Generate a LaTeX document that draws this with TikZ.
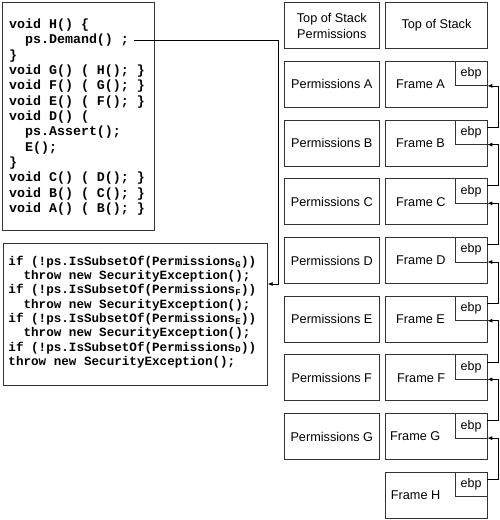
\documentclass[tikz,border=0pt]{standalone}
\usepackage{fontspec}
\setmainfont{Liberation Sans}
\newfontfamily\codefont{Liberation Mono}
\usetikzlibrary{arrows.meta}
\tikzset{
  box/.style={draw=black!80, line width=0.9pt, inner sep=0pt, outer sep=0pt},
  pbox/.style={box, minimum width=95pt, minimum height=46pt, font=\fontsize{12.7}{15.6}\selectfont, align=center},
  fbox/.style={box, minimum width=101.6pt, minimum height=46pt, font=\fontsize{12.7}{15.6}\selectfont},
  ebpbox/.style={box, minimum width=32.3pt, minimum height=24.5pt, anchor=north east, font=\fontsize{12.5}{15}\selectfont},
  flabel/.style={anchor=west, inner sep=0pt, font=\fontsize{12.7}{15.6}\selectfont},
  codeA/.style={anchor=base west, inner sep=0pt, font=\codefont\bfseries\fontsize{13.3}{15.36}\selectfont},
  codeB/.style={anchor=base west, inner sep=0pt, font=\codefont\bfseries\fontsize{12.6}{14.3}\selectfont},
  conn/.style={draw=black, line width=0.8pt, -{Latex[length=5pt,width=4pt]}},
}
\begin{document}
\begin{tikzpicture}[x=1pt,y=-1pt]
\useasboundingbox[fill=white] (0,0) rectangle (500,520);

% code boxes
\node[box, minimum width=151.6pt, minimum height=227.3pt] (code1) at (78.5,116.35) {};
\node[box, minimum width=264.4pt, minimum height=141.7pt] (code2) at (135.5,314.15) {};

\node[codeA] (code1text) at (9,28.3) {\begin{tabular}[t]{@{}l@{}}
void H() \{\\
~~ps.Demand() ;\\
\}\\
void G() ( H(); \}\\
void F() ( G(); \}\\
void E() ( F(); \}\\
void D() (\\
~~ps.Assert();\\
~~E();\\
\}\\
void C() ( D(); \}\\
void B() ( C(); \}\\
void A() ( B(); \}
\end{tabular}};

\node[codeB] (code2text) at (8.3,265.2) {\begin{tabular}[t]{@{}l@{}}
if (!ps.IsSubsetOf(Permissions\textsubscript{G}))\\
~~throw new SecurityException();\\
if (!ps.IsSubsetOf(Permissions\textsubscript{F}))\\
~~throw new SecurityException();\\
if (!ps.IsSubsetOf(Permissions\textsubscript{E}))\\
~~throw new SecurityException();\\
if (!ps.IsSubsetOf(Permissions\textsubscript{D}))\\
throw new SecurityException();
\end{tabular}};

% header row
\node[pbox] (ptop) at (331.8,25.7) {Top of Stack\\Permissions};
\node[fbox] (ftop) at (436.5,25.7) {Top of Stack};

% stack rows
\foreach \n/\i in {A/1,B/2,C/3,D/4,E/5,F/6,G/7} {
  \node[pbox] (p\n) at (331.8,25.7+58.7*\i) {Permissions \n};
}
\foreach \n/\i/\lx in {A/1/396,B/2/396,C/3/396,D/4/396,E/5/396,F/6/397,G/7/390,H/8/390.7} {
  \node[fbox] (f\n) at (436.5,25.7+58.7*\i) {};
  \node[ebpbox] (e\n) at (f\n.north east) {ebp};
  \node[flabel] (t\n) at (\lx,25.7+58.7*\i) {Frame \n};
}

% ebp chain
\foreach \cur/\prev in {B/A,C/B,D/C,E/D,F/E,G/F,H/G} {
  \coordinate (o\cur) at ([yshift=-7pt]f\cur.north east);
  \draw[conn] (o\cur) -- ++(10.7,0) |- (f\prev.east |- e\prev.south);
}

% demand connector
\coordinate (demand) at (134.3,40.7);
\coordinate (bend) at (278,284);
\coordinate (dt) at (code2.east |- bend);
\draw[conn] (demand) -| (bend) -- (dt);
\end{tikzpicture}
\end{document}
